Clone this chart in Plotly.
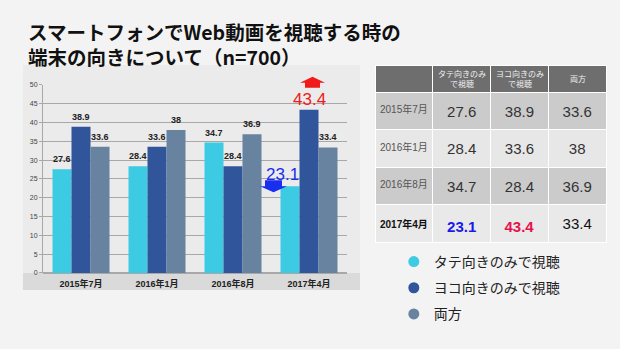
import plotly.graph_objects as go

periods = ["2015年7月", "2016年1月", "2016年8月", "2017年4月"]
tate = [27.6, 28.4, 34.7, 23.1]
yoko = [38.9, 33.6, 28.4, 43.4]
both = [33.6, 38, 36.9, 33.4]
series_names = ["タテ向きのみで視聴", "ヨコ向きのみで視聴", "両方"]
table_headers = ["", "タテ向きのみ<br>で視聴", "ヨコ向きのみ<br>で視聴", "両方"]
title_text = "スマートフォンでWeb動画を視聴する時の<br>端末の向きについて（n=700）"
yticks = list(range(0, 51, 5))

colors = ["#3ccbe3", "#30559b", "#67839f"]
FONT = "Liberation Sans, Noto Sans CJK JP, sans-serif"
CJK = "Noto Sans CJK JP, sans-serif"
series = [tate, yoko, both]

YDOM = [0, 0.904]
YMAX = 50
TDOM_X = [0.5887, 1.0]
PLOT_H = 208  # px height of the area inside margins
TEXT_DROP = 5.5  # px: vertical centring of table texts

fig = go.Figure()

# panel backgrounds
fig.add_shape(type="rect", xref="paper", yref="paper", x0=-0.0355, x1=0.562, y0=-0.082, y1=1.0,
              fillcolor="#ebebeb", line_width=0, layer="below")
fig.add_shape(type="rect", xref="paper", yref="paper", x0=-0.0355, x1=0.562, y0=-0.082, y1=0.0,
              fillcolor="#dadada", line_width=0, layer="below")

for name, vals, c in zip(series_names, series, colors):
    fig.add_trace(go.Bar(x=periods, y=vals, name=name, marker_color=c, showlegend=False,
                         marker_line_width=0))

# legend entries with circle markers
for i, (name, c) in enumerate(zip(series_names, colors)):
    fig.add_trace(go.Scatter(x=[None], y=[None], mode="markers", name=name, legendgroup=f"g{i}",
                             marker=dict(color=c, size=11, symbol="circle")))

# value labels
for si, vals in enumerate(series):
    for p, v in zip(periods, vals):
        hl_down = (si == 0 and v == min(tate))
        hl_up = (si == 1 and v == max(yoko))
        if hl_down:
            fig.add_annotation(x=p, y=v, text=f"{v:g}", showarrow=False, xshift=-27, yshift=0,
                               yanchor="bottom", font=dict(family=FONT, size=17, color="#1a2ef0"))
            fig.add_shape(type="path", xref="x", yref="paper", xsizemode="pixel", ysizemode="pixel",
                          xanchor=p, yanchor=YDOM[0] + (YDOM[1] - YDOM[0]) * v / YMAX,
                          path="M-44,6 L-27,6 L-27,0 L-22,0 L-35.5,-6 L-49,0 L-44,0 Z",
                          fillcolor="#1a2ef0", line_width=0)
        elif hl_up:
            fig.add_annotation(x=p, y=v, text=f"{v:g}", showarrow=False, xshift=0, yshift=-1,
                               yanchor="bottom", font=dict(family=FONT, size=17, color="#f01a1a"))
            fig.add_shape(type="path", xref="x", yref="paper", xsizemode="pixel", ysizemode="pixel",
                          xanchor=p, yanchor=YDOM[0] + (YDOM[1] - YDOM[0]) * v / YMAX,
                          path="M-4,22 L11,22 L11,27 L16,27 L3.5,33 L-9,27 L-4,27 Z",
                          fillcolor="#f01a1a", line_width=0)
        else:
            fig.add_annotation(x=p, y=v, text=f"<b>{v:g}</b>", showarrow=False,
                               xshift=(si - 1) * 19, yshift=3, yanchor="bottom",
                               font=dict(family=FONT, size=9, color="#222222"))

# table
n = len(periods)
last = n - 1
col0 = [f"<b>{p}</b>" if i == last else p for i, p in enumerate(periods)]
def fmt(vals, bold_last):
    return [f"<b>{v:g}</b>" if (i == last and bold_last) else f"{v:g}" for i, v in enumerate(vals)]
cols = [col0, fmt(tate, True), fmt(yoko, True), fmt(both, False)]
font_colors = [
    ["#555555"] * last + ["#111111"],
    ["#333333"] * last + ["#1a1ae8"],
    ["#333333"] * last + ["#e8124a"],
    ["#333333"] * last + ["#111111"],
]
row_fill = ["#cbcbcb", "#e7e7e7", "#cbcbcb", "#e9e9e9"]
ncol = len(table_headers)
# table grid (fills and white rules)
fig.add_trace(go.Table(
    domain=dict(x=TDOM_X, y=[0.14, 1.0]),
    columnwidth=[1] * ncol,
    header=dict(values=[""] * ncol, fill_color="#6e6e6e",
                line=dict(color="white", width=1), height=27),
    cells=dict(values=[[""] * n for _ in range(ncol)], fill_color=[row_fill] * ncol,
               line=dict(color="white", width=1), height=37.5),
))
# table texts, dropped a little to sit in the middle of each row
fig.add_trace(go.Table(
    domain=dict(x=TDOM_X, y=[0.10, 1.0 - TEXT_DROP / PLOT_H]),
    columnwidth=[1] * ncol,
    header=dict(values=[""] * ncol, fill_color="rgba(0,0,0,0)",
                line=dict(color="rgba(0,0,0,0)", width=0), height=27),
    cells=dict(values=cols, fill_color="rgba(0,0,0,0)", line=dict(color="rgba(0,0,0,0)", width=0),
               align="center", height=37.5,
               font=dict(family=FONT, size=[10, 15, 15, 15], color=font_colors)),
))
# header labels
cw = (TDOM_X[1] - TDOM_X[0]) / ncol
for i, h in enumerate(table_headers):
    if h:
        fig.add_annotation(xref="paper", yref="paper", x=TDOM_X[0] + (i + 0.5) * cw, y=0.935,
                           text=h, showarrow=False, xanchor="center", yanchor="middle",
                           font=dict(family=CJK, size=8, color="#f0f0f0"))

# title
fig.add_annotation(xref="paper", yref="paper", x=-0.030, y=1.1, xanchor="left",
                   yanchor="middle", text=f"<b>{title_text}</b>", showarrow=False, align="left",
                   font=dict(family=CJK, size=19.5, color="#111111"))

fig.update_layout(
    width=620, height=349,
    margin=dict(l=43, r=13, t=65, b=76),
    paper_bgcolor="#f3f3f3", plot_bgcolor="rgba(0,0,0,0)",
    barmode="group", bargap=0.25, bargroupgap=0,
    xaxis=dict(domain=[0, 0.539], showgrid=False, showline=False, ticks="",
               tickfont=dict(family=FONT, size=9, color="#222222"),
               tickprefix="<b>", ticksuffix="</b>", ticklabelstandoff=4),
    yaxis=dict(domain=YDOM, range=[0, YMAX], tickvals=yticks, showgrid=True,
               gridcolor="#a8a8a8", gridwidth=1, zeroline=True, zerolinecolor="#a8a8a8",
               showline=True, linecolor="#a8a8a8", ticks="outside", ticklen=3, tickcolor="#a8a8a8",
               tickfont=dict(family=FONT, size=7, color="#444444")),
    legend=dict(x=0.622, y=0.13, xanchor="left", yanchor="top", bgcolor="rgba(0,0,0,0)",
                font=dict(family=CJK, size=14, color="#222222"), tracegroupgap=5,
                traceorder="grouped"),
)

fig.write_html("out.html")
